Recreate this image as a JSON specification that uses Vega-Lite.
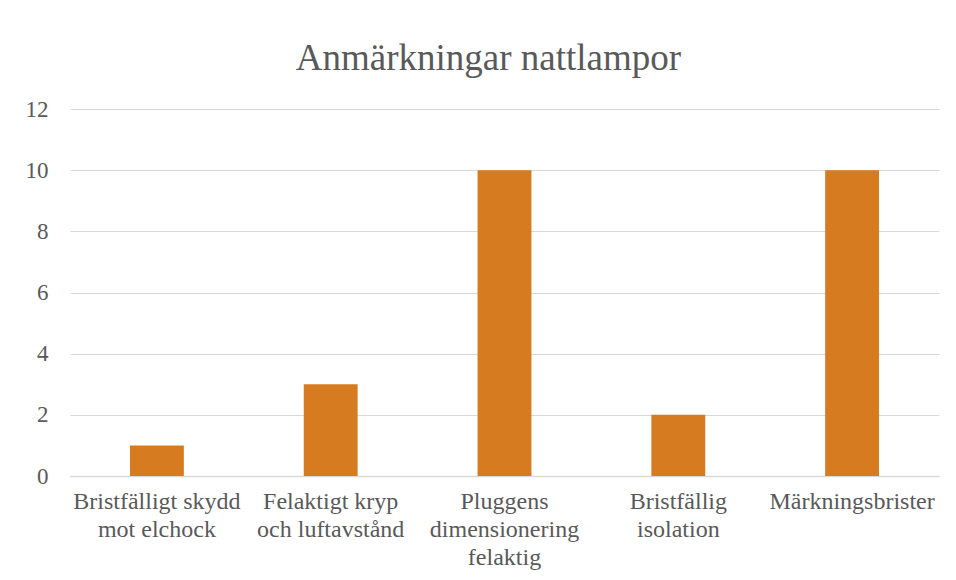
{
  "$schema": "https://vega.github.io/schema/vega-lite/v6.json",
  "autosize": "none",
  "width": 869,
  "height": 367,
  "padding": {"left": 70, "top": 109, "right": 17, "bottom": 104},
  "background": "white",
  "title": {
    "text": "Anmärkningar nattlampor",
    "font": "Liberation Serif",
    "fontSize": 37,
    "fontWeight": "normal",
    "color": "#595959",
    "anchor": "middle",
    "offset": 20,
    "dx": -16
  },
  "data": {
    "values": [
      {"kategori": "Bristfälligt skydd|mot elchock", "antal": 1},
      {"kategori": "Felaktigt kryp|och luftavstånd", "antal": 3},
      {"kategori": "Pluggens|dimensionering|felaktig", "antal": 10},
      {"kategori": "Bristfällig|isolation", "antal": 2},
      {"kategori": "Märkningsbrister", "antal": 10}
    ]
  },
  "mark": {"type": "bar", "color": "#D67B1F"},
  "encoding": {
    "x": {
      "field": "kategori",
      "type": "nominal",
      "sort": null,
      "title": null,
      "scale": {"paddingInner": 0.69, "paddingOuter": 0.345},
      "axis": {
        "labelAngle": 0,
        "labelExpr": "split(datum.value, '|')",
        "labelFont": "Liberation Serif",
        "labelFontSize": 24,
        "labelColor": "#595959",
        "labelLineHeight": 28,
        "labelPadding": 13,
        "ticks": false,
        "domainColor": "#D9D9D9",
        "domainWidth": 1.5,
        "labelLimit": 300
      }
    },
    "y": {
      "field": "antal",
      "type": "quantitative",
      "title": null,
      "scale": {"domain": [0, 12]},
      "axis": {
        "values": [0, 2, 4, 6, 8, 10, 12],
        "labelFont": "Liberation Serif",
        "labelFontSize": 23,
        "labelColor": "#595959",
        "labelPadding": 22,
        "ticks": false,
        "domain": false,
        "gridColor": "#D9D9D9",
        "gridWidth": 1.2
      }
    }
  },
  "config": {"view": {"stroke": null}}
}
